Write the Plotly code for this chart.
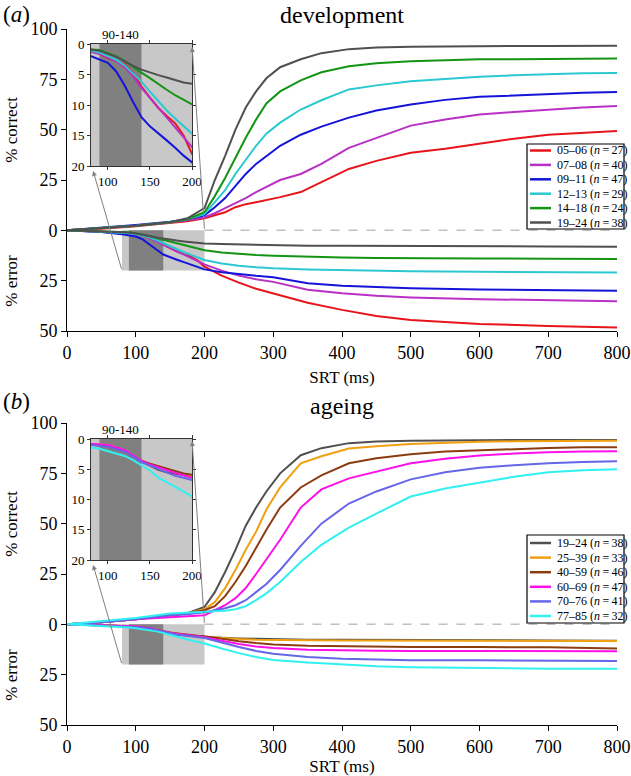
import plotly.graph_objects as go

# ---------------- data ----------------
srt_c = [0, 50, 100, 150, 175, 200, 215, 230, 245, 260, 275, 290, 310, 340, 370, 410, 450, 500, 550, 600, 650, 700, 750, 800]
srt_e = [0, 50, 80, 90, 100, 110, 120, 130, 140, 150, 160, 170, 180, 190, 200, 225, 250, 275, 300, 350, 400, 450, 500, 600, 700, 800]

dev_labels = ["05–06", "07–08", "09–11", "12–13", "14–18", "19–24"]
dev_n = [27, 40, 47, 29, 24, 38]
dev_colors = ["#e8141c", "#b830c4", "#1414d8", "#2cc8d0", "#149414", "#505050"]

dev_c_0506 = [0, 0.8, 2, 3.5, 4.5, 6, 7.5, 9, 11.5, 13, 14, 15, 16.5, 19, 24, 30.5, 34.5, 38.5, 40.5, 43, 45.5, 47.5, 48.5, 49.3]
dev_c_0708 = [0, 1, 2.3, 4, 5, 6.5, 8.5, 11, 13.5, 16, 19, 21.5, 25, 28, 33, 41, 46, 52, 55, 57.5, 58.8, 60, 61, 61.8]
dev_c_0911 = [0, 1.3, 2.7, 4.3, 5.5, 7.5, 11.5, 16, 22, 28, 33, 37, 42, 47.5, 51.5, 56, 59.5, 62.5, 64.8, 66.3, 67, 67.8, 68.3, 68.7]
dev_c_1213 = [0, 1, 2.3, 4, 5.5, 8, 14, 20, 28, 35, 42, 48, 53.5, 60, 64.6, 70, 72, 74, 75.3, 76.3, 77, 77.6, 78, 78.2]
dev_c_1418 = [0, 1, 2.3, 4, 5.5, 9, 17, 26, 36, 46, 55, 63, 69, 74.5, 78.5, 81.5, 83, 84, 84.5, 85, 85, 85.2, 85.3, 85.3]
dev_c_1924 = [0, 1, 2.3, 4, 6, 11, 25, 37, 50, 61, 69, 75.5, 81, 85, 88, 90, 90.8, 91.2, 91.4, 91.5, 91.6, 91.6, 91.7, 91.7]

dev_e_0506 = [0, 0.6, 1.2, 1.6, 2.3, 2.8, 3.3, 4.8, 7.0, 8.8, 10.5, 11.8, 13.0, 15.0, 18.0, 22.5, 26, 29, 31.4, 36, 39.5, 42.5, 44.5, 46.5, 47.5, 48.2]
dev_e_0708 = [0, 0.6, 1.3, 1.6, 2.2, 2.8, 3.8, 5.3, 7.2, 8.8, 10.4, 12.0, 13.6, 15.3, 16.9, 20, 22.5, 24.3, 25.6, 29.5, 31.3, 32.5, 33.3, 34.2, 34.8, 35.2]
dev_e_0911 = [0, 0.8, 2.0, 2.5, 3.1, 4.5, 6.8, 9.5, 12.0, 13.5, 14.6, 15.8, 17.0, 18.3, 19.4, 20.8, 21.8, 22.6, 23.3, 26.3, 27.5, 28.3, 28.8, 29.4, 29.7, 30.0]
dev_e_1213 = [0, 0.6, 1.1, 1.4, 2.0, 2.6, 3.5, 4.8, 6.2, 7.8, 9.4, 10.9, 12.2, 13.5, 14.7, 16.5, 17.6, 18.3, 18.8, 19.4, 19.8, 20.1, 20.3, 20.6, 20.8, 20.9]
dev_e_1418 = [0, 0.5, 0.8, 1.0, 1.5, 2.0, 2.8, 3.8, 4.7, 5.6, 6.6, 7.5, 8.4, 9.2, 9.9, 11, 11.8, 12.3, 12.6, 13.2, 13.5, 13.7, 13.9, 14.0, 14.1, 14.2]
dev_e_1924 = [0, 0.5, 0.9, 1.1, 1.6, 2.1, 2.8, 3.6, 4.2, 4.7, 5.1, 5.5, 5.9, 6.3, 6.5, 6.8, 7.0, 7.2, 7.4, 7.6, 7.7, 7.8, 7.9, 8.0, 8.0, 8.1]

age_labels = ["19–24", "25–39", "40–59", "60–69", "70–76", "77–85"]
age_n = [38, 33, 46, 47, 41, 32]
age_colors = ["#505050", "#f0a010", "#8b3c10", "#ff10e8", "#6666e8", "#30f0f0"]

age_c_1924 = [0, 1, 2.5, 4.5, 5.5, 8.6, 16, 26, 37, 49, 58, 66, 75, 84, 87.5, 90, 90.8, 91.2, 91.4, 91.5, 91.6, 91.6, 91.6, 91.6]
age_c_2539 = [0, 1, 2.5, 4.5, 5.5, 7.5, 11, 18, 27, 37, 46, 57, 68, 80, 83.5, 87.3, 88.5, 89.6, 90.3, 90.7, 90.9, 91.0, 91.1, 91.2]
age_c_4059 = [0, 1, 2.5, 4.5, 5.5, 7, 9, 14, 21, 29, 38, 47, 58, 68, 74, 80, 82.5, 84.5, 85.8, 86.5, 87.2, 87.6, 87.9, 88]
age_c_6069 = [0, 1, 2.5, 3.6, 4, 4.5, 7, 9.5, 13, 18, 25, 32.5, 42, 58, 67, 72.5, 76, 80, 82.3, 83.8, 84.8, 85.5, 85.8, 86]
age_c_7076 = [0, 1, 2.5, 4.5, 5, 6, 7, 8, 9.5, 12, 16, 20, 27, 39, 50, 60, 66, 72, 75.5, 77.8, 79, 80, 80.6, 81]
age_c_7785 = [0, 1.5, 3.2, 5.4, 5.8, 6, 6.3, 6.8, 7.5, 9, 12, 15.4, 21, 31, 39.5, 48, 55, 63.5, 67.5, 70.3, 73.3, 75.5, 76.5, 77]

age_e_1924 = [0, 0.4, 0.9, 1.0, 1.2, 1.6, 2.0, 2.8, 3.7, 4.4, 5.1, 5.5, 5.8, 6.1, 6.3, 6.8, 7.0, 7.2, 7.4, 7.6, 7.7, 7.8, 7.9, 8.0, 8.0, 8.1]
age_e_2539 = [0, 0.4, 0.8, 0.9, 1.0, 1.4, 1.9, 2.7, 3.6, 4.1, 4.6, 5.0, 5.5, 5.9, 6.2, 6.9, 7.3, 7.6, 7.8, 7.9, 8.0, 8.0, 8.0, 8.0, 8.0, 8.3]
age_e_4059 = [0, 0.4, 0.9, 1.0, 1.2, 1.6, 2.0, 2.8, 3.6, 4.1, 4.5, 5.0, 5.4, 5.7, 5.9, 7.2, 8.4, 9.3, 10.0, 10.6, 10.9, 11.1, 11.2, 11.3, 11.4, 12.0]
age_e_6069 = [0, 0.4, 0.8, 0.9, 1.0, 1.4, 1.8, 2.7, 3.6, 4.2, 4.7, 5.2, 5.6, 6.0, 6.4, 8.2, 9.8, 11.0, 11.8, 12.6, 13.0, 13.1, 13.2, 13.3, 13.3, 13.4]
age_e_7076 = [0, 0.5, 1.0, 1.1, 1.3, 1.7, 2.1, 2.9, 3.8, 4.4, 5.0, 5.5, 6.1, 6.4, 6.8, 9.0, 11.3, 13.2, 14.6, 16.2, 17.1, 17.5, 17.8, 17.9, 18.1, 18.2]
age_e_7785 = [0, 0.8, 1.4, 1.6, 2.0, 2.4, 2.8, 3.5, 4.3, 5.2, 6.4, 7.1, 7.9, 8.7, 9.5, 12, 14.3, 16.2, 17.7, 19.0, 20.0, 20.8, 21.3, 21.8, 22.0, 22.1]

main_ticks = [-50, -25, 0, 25, 50, 75, 100]
main_ticktext = ["50", "25", "0", "25", "50", "75", "100"]
srt_ticks = [0, 100, 200, 300, 400, 500, 600, 700, 800]
inset_xticks = [100, 150, 200]
inset_yticks = [0, 5, 10, 15, 20]

dev_correct = [dev_c_0506, dev_c_0708, dev_c_0911, dev_c_1213, dev_c_1418, dev_c_1924]
dev_error = [dev_e_0506, dev_e_0708, dev_e_0911, dev_e_1213, dev_e_1418, dev_e_1924]
age_correct = [age_c_1924, age_c_2539, age_c_4059, age_c_6069, age_c_7076, age_c_7785]
age_error = [age_e_1924, age_e_2539, age_e_4059, age_e_6069, age_e_7076, age_e_7785]

# ---------------- figure ----------------
FONT = "Liberation Serif"
W, H = 631, 776
ML, MR, MT, MB = 67, 14, 29, 51
PW, PH = W - ML - MR, H - MT - MB

def px_x(px):
    return (px - ML) / PW

def px_y(py):
    return (H - MB - py) / PH

fig = go.Figure()

def add_panel(labels, colors, corr, err, xa, ya, xi, yi):
    for lab, col, c, e in zip(labels, colors, corr, err):
        fig.add_trace(go.Scatter(x=srt_c, y=c, mode="lines", line=dict(color=col, width=2),
                                 name=lab, showlegend=False, xaxis=xa, yaxis=ya, hoverinfo="skip"))
        fig.add_trace(go.Scatter(x=srt_e, y=[-v for v in e], mode="lines", line=dict(color=col, width=2),
                                 showlegend=False, xaxis=xa, yaxis=ya, hoverinfo="skip"))
        fig.add_trace(go.Scatter(x=srt_e, y=e, mode="lines", line=dict(color=col, width=2),
                                 showlegend=False, xaxis=xi, yaxis=yi, hoverinfo="skip"))

add_panel(dev_labels, dev_colors, dev_correct, dev_error, "x", "y", "x2", "y2")
add_panel(age_labels, age_colors, age_correct, age_error, "x3", "y3", "x4", "y4")

ax_common = dict(showline=True, linecolor="black", linewidth=1, ticks="outside", ticklen=5,
                 tickcolor="black", showgrid=False, zeroline=False, automargin=False,
                 tickfont=dict(family=FONT, size=18, color="black"))
inset_common = dict(showline=True, linecolor="#333333", linewidth=1, ticks="outside", ticklen=3,
                    tickcolor="#333333", showgrid=False, zeroline=False, mirror="ticks", automargin=False,
                    tickfont=dict(family=FONT, size=13, color="black"))

top_dom = [px_y(331), px_y(29)]
bot_dom = [px_y(725), px_y(423)]
inset_x = [px_x(91), px_x(192)]
inset_top_y = [px_y(166), px_y(44)]
inset_bot_y = [px_y(560), px_y(439)]

xtitle = dict(text="SRT (ms)", font=dict(family=FONT, size=17, color="black"), standoff=9)
fig.update_layout(
    xaxis=dict(domain=[0, 1], anchor="y", range=[0, 800], tickvals=srt_ticks, title=xtitle, **ax_common),
    yaxis=dict(domain=top_dom, anchor="x", range=[-50, 100], tickvals=main_ticks, ticktext=main_ticktext, **ax_common),
    xaxis3=dict(domain=[0, 1], anchor="y3", range=[0, 800], tickvals=srt_ticks, title=xtitle, **ax_common),
    yaxis3=dict(domain=bot_dom, anchor="x3", range=[-50, 100], tickvals=main_ticks, ticktext=main_ticktext, **ax_common),
    xaxis2=dict(domain=inset_x, anchor="y2", range=[80, 200], tickvals=inset_xticks, **inset_common),
    yaxis2=dict(domain=inset_top_y, anchor="x2", range=[20, 0], tickvals=inset_yticks, **inset_common),
    xaxis4=dict(domain=inset_x, anchor="y4", range=[80, 200], tickvals=inset_xticks, **inset_common),
    yaxis4=dict(domain=inset_bot_y, anchor="x4", range=[20, 0], tickvals=inset_yticks, **inset_common),
    width=W, height=H,
    margin=dict(l=ML, r=MR, t=MT, b=MB, autoexpand=False),
    paper_bgcolor="white", plot_bgcolor="rgba(0,0,0,0)",
    font=dict(family=FONT, color="black"),
    showlegend=False,
)

shapes = []
for xr, yr in [("x", "y"), ("x3", "y3")]:
    shapes.append(dict(type="rect", xref=xr, yref=yr, x0=80, x1=200, y0=0, y1=-20,
                       fillcolor="#c8c8c8", line=dict(width=0), layer="below"))
    shapes.append(dict(type="rect", xref=xr, yref=yr, x0=90, x1=140, y0=0, y1=-20,
                       fillcolor="#808080", line=dict(width=0), layer="below"))
    shapes.append(dict(type="line", xref=xr, yref=yr, x0=200, x1=800, y0=0, y1=0,
                       line=dict(color="#c0c0c0", width=1.5, dash="dash"), layer="below"))
for xr, yr in [("x2", "y2"), ("x4", "y4")]:
    shapes.append(dict(type="rect", xref=xr, yref=yr, x0=80, x1=200, y0=0, y1=20,
                       fillcolor="#c8c8c8", line=dict(width=0), layer="below"))
    shapes.append(dict(type="rect", xref=xr, yref=yr, x0=90, x1=140, y0=0, y1=20,
                       fillcolor="#808080", line=dict(width=0), layer="below"))

ann = []
def txt(text, x, y, xref="paper", yref="paper", size=17, angle=0, xanchor="center", yanchor="middle"):
    ann.append(dict(text=text, x=x, y=y, xref=xref, yref=yref, showarrow=False, textangle=angle,
                    xanchor=xanchor, yanchor=yanchor, font=dict(family=FONT, size=size, color="black")))

# compact legends (box + sample lines + labels)
def legend_box(labels, ns, colors, top_px, bottom_px, first_px, step_px):
    shapes.append(dict(type="rect", xref="paper", yref="paper", x0=px_x(527), x1=px_x(624),
                       y0=px_y(bottom_px), y1=px_y(top_px), fillcolor="white",
                       line=dict(color="black", width=1.2), layer="above"))
    for i, (lab, n, col) in enumerate(zip(labels, ns, colors)):
        yy = px_y(first_px + i * step_px)
        shapes.append(dict(type="line", xref="paper", yref="paper", x0=px_x(530), x1=px_x(551),
                           y0=yy, y1=yy, line=dict(color=col, width=2.5), layer="above"))
        txt(f"{lab} (<i>n</i>\u2009=\u2009{n})", px_x(555), yy, size=12, xanchor="left")

legend_box(dev_labels, dev_n, dev_colors, 144, 229, 150.5, 14.4)
legend_box(age_labels, age_n, age_colors, 535, 623, 543.0, 14.6)

txt("(<i>a</i>)", px_x(1), px_y(15), size=23, xanchor="left")
txt("development", 0.5, px_y(15), size=24)
txt("(<i>b</i>)", px_x(1), px_y(401), size=23, xanchor="left")
txt("ageing", 0.5, px_y(406), size=24)
for yr in ["y", "y3"]:
    txt("% correct", px_x(12), 50, yref=yr, angle=-90)
    txt("% error", px_x(12), -25, yref=yr, angle=-90)
txt("90-140", 115, px_y(35), xref="x2", size=13)
txt("90-140", 115, px_y(430), xref="x4", size=13)

for xr, yr in [("x", "y"), ("x3", "y3")]:
    ann.append(dict(x=38, y=29.5, ax=80, ay=-20, xref=xr, yref=yr, axref=xr, ayref=yr, text="",
                    showarrow=True, arrowhead=2, arrowsize=1, arrowwidth=1, arrowcolor="#808080"))
    ann.append(dict(x=182, y=91, ax=200, ay=0, xref=xr, yref=yr, axref=xr, ayref=yr, text="",
                    showarrow=True, arrowhead=2, arrowsize=1, arrowwidth=1, arrowcolor="#808080"))

fig.update_layout(shapes=shapes, annotations=ann)

fig.write_html("out.html", config={"displayModeBar": False},
               post_script="document.body.style.margin='0px';")
